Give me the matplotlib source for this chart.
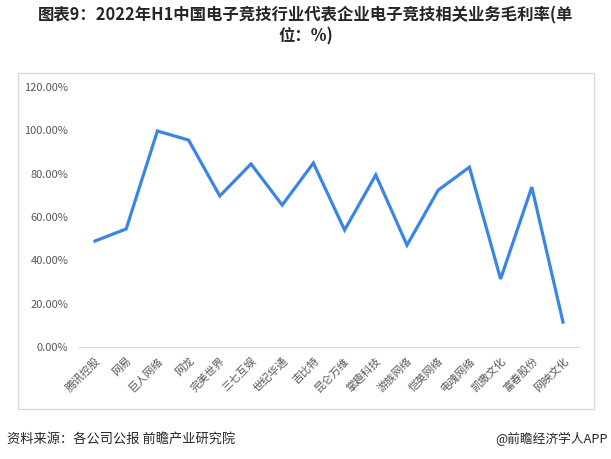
import matplotlib
matplotlib.use("Agg")
import matplotlib.pyplot as plt
from matplotlib.patches import Rectangle
from matplotlib.ticker import FuncFormatter

plt.rcParams['font.family'] = ['Noto Sans CJK SC', 'DejaVu Sans']

companies = ["腾讯控股", "网易", "巨人网络", "网龙", "完美世界", "三七互娱", "世纪华通", "吉比特",
             "昆仑万维", "掌趣科技", "游族网络", "恺英网络", "电魂网络", "凯撒文化", "富春股份", "网映文化"]
margin = [48.9, 54.5, 99.7, 95.5, 69.7, 84.5, 65.5, 84.9,
          54.0, 79.4, 47.0, 72.4, 83.0, 31.4, 73.8, 11.5]
yticks = [0, 20, 40, 60, 80, 100, 120]

W, H = 611, 459
fig = plt.figure(figsize=(W / 100, H / 100), dpi=100)
ax = fig.add_axes([79.4 / W, 1 - 347 / H, (578.6 - 79.4) / W, (347 - 87) / H])

x = list(range(len(companies)))
ax.plot(x, margin, color="#3a86e0", lw=2.3, solid_joinstyle="miter")

ax.set_xlim(-0.5, len(companies) - 0.5)
ax.set_ylim(0, 120)
ax.set_yticks(yticks)
ax.yaxis.set_major_formatter(FuncFormatter(lambda v, p: f"{v:.2f}%"))
ax.set_xticks(x)
ax.set_xticklabels(companies, rotation=45, ha="right", va="top", rotation_mode="anchor",
                   fontsize=7.8, color="#595959")
ax.tick_params(axis="y", length=0, pad=8, labelsize=8, labelcolor="#595959")
ax.tick_params(axis="x", length=0, pad=6)
for s in ["top", "right", "left"]:
    ax.spines[s].set_visible(False)
ax.spines["bottom"].set_color("#d9d9d9")

# outer frame
fig.patches.append(Rectangle((18 / W, 1 - 409 / H), (594 - 18) / W, (409 - 73) / H,
                             transform=fig.transFigure, fill=False, ec="#d9d9d9", lw=1))

fig.text(0.5, 1 - 15 / H, "图表9：2022年H1中国电子竞技行业代表企业电子竞技相关业务毛利率(单",
         ha="center", va="center", fontsize=11.8, fontweight="bold", color="#262626")
fig.text(0.5, 1 - 36 / H, "位：%)", ha="center", va="center", fontsize=11.8,
         fontweight="bold", color="#262626")
fig.text(7 / W, 1 - 439 / H, "资料来源：各公司公报 前瞻产业研究院", ha="left", va="center",
         fontsize=9.5, color="#262626")
fig.text(608 / W, 1 - 439 / H, "@前瞻经济学人APP", ha="right", va="center",
         fontsize=9.2, color="#262626")

fig.savefig("out.png", dpi=100)
